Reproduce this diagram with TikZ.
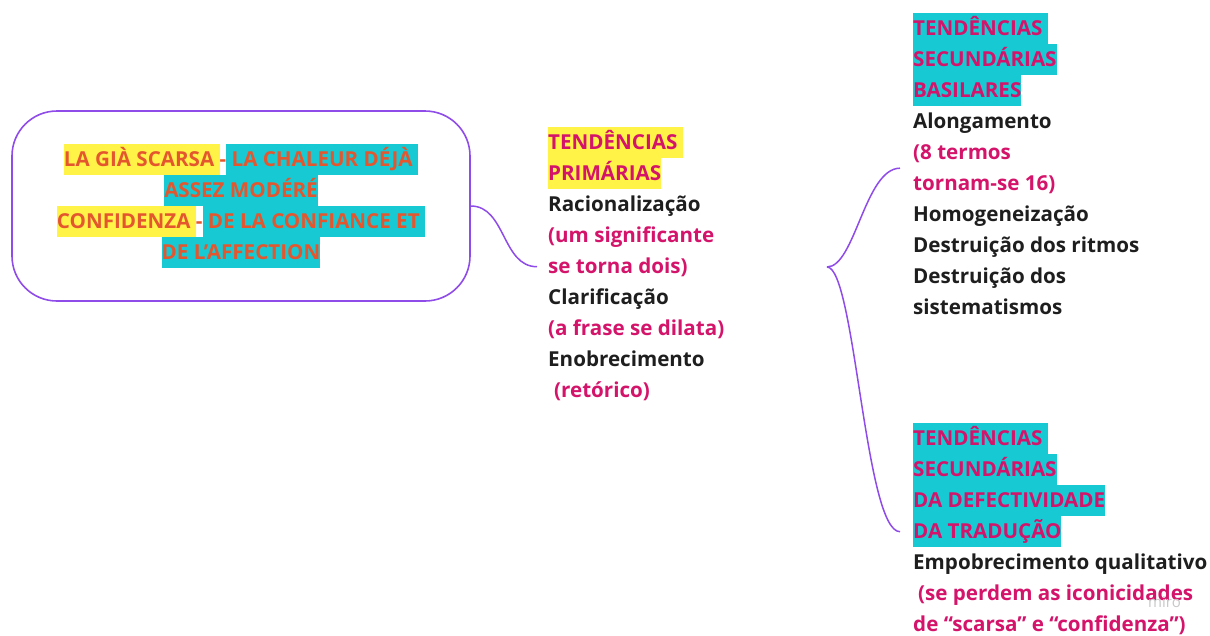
\documentclass[tikz,border=0pt]{standalone}
\usepackage{fontspec}
\setmainfont{Open Sans}
\definecolor{linkpurple}{RGB}{143,76,232}
\definecolor{inkorange}{RGB}{228,87,46}
\definecolor{hlyellow}{RGB}{255,243,71}
\definecolor{hlteal}{RGB}{23,201,211}
\definecolor{accentpink}{RGB}{212,20,106}
\definecolor{inkdark}{RGB}{30,30,30}
% line strut: every text line is 31pt tall, so highlights tile
\newcommand\ls{\rule[-9pt]{0pt}{31pt}}
\newcommand\hly[1]{{\setlength{\fboxsep}{0pt}\colorbox{hlyellow}{\ls#1}}}
\newcommand\hlt[1]{{\setlength{\fboxsep}{0pt}\colorbox{hlteal}{\ls#1}}}
\newcommand\pk[1]{\textcolor{accentpink}{#1}}
\begin{document}
\begin{tikzpicture}[x=1pt,y=-1pt,
  conn/.style={draw=linkpurple, line width=1.5pt},
  txt/.style={anchor=north west, inner sep=0pt, align=left,
    font=\bfseries\fontsize{20.6}{31}\selectfont, text=inkdark},
  srcbox/.style={draw=linkpurple, line width=1.6pt, rounded corners=45pt,
    minimum width=458pt, minimum height=190pt, inner sep=0pt, align=center,
    font=\bfseries\fontsize{20.6}{31}\selectfont, text=inkorange},
]
\useasboundingbox (0,0) rectangle (1210,635);

% source box
\node[srcbox] (src) at (241,206) {%
  \hly{LA GIÀ SCARSA }-\hlt{ LA CHALEUR DÉJÀ }\\
  \hlt{ASSEZ MODÉRÉ}\\
  \hly{CONFIDENZA }-\hlt{ DE LA CONFIANCE ET }\\
  \hlt{DE L’AFFECTION}};

% primary tendencies
\node[txt] (prim) at (548,127) {%
  \pk{\hly{TENDÊNCIAS }}\\
  \pk{\hly{PRIMÁRIAS}}\\
  \ls Racionalização\\
  \ls\pk{(um significante}\\
  \ls\pk{se torna dois)}\\
  \ls Clarificação\\
  \ls\pk{(a frase se dilata)}\\
  \ls Enobrecimento\\
  \ls\hspace*{6pt}\pk{(retórico)}};

% basic secondary tendencies
\node[txt] (basil) at (913,13) {%
  \pk{\hlt{TENDÊNCIAS }}\\
  \pk{\hlt{SECUNDÁRIAS}}\\
  \pk{\hlt{BASILARES}}\\
  \ls Alongamento\\
  \ls\pk{(8 termos}\\
  \ls\pk{tornam-se 16)}\\
  \ls Homogeneização\\
  \ls Destruição dos ritmos\\
  \ls Destruição dos\\
  \ls sistematismos};

% secondary tendencies of defectivity
\node[txt] (defect) at (913,423) {%
  \pk{\hlt{TENDÊNCIAS }}\\
  \pk{\hlt{SECUNDÁRIAS}}\\
  \pk{\hlt{DA DEFECTIVIDADE}}\\
  \pk{\hlt{DA TRADUÇÃO}}\\
  \ls Empobrecimento qualitativo\\
  \ls\hspace*{5pt}\pk{(se perdem as iconicidades}\\
  \ls\pk{de “scarsa” e “confidenza”)}};

\node[anchor=west, inner sep=0pt, text=black!22, font=\fontsize{15}{15}\selectfont] (mark) at (1148,602) {miro};

% connectors
\coordinate (fork) at (827,267);
\draw[conn] (src.east) .. controls +(35,0) and +(-35,0) .. ([xshift=-11pt]prim.west);
\draw[conn] (fork) .. controls +(28,0) and +(-35,0) .. ([xshift=-13pt]basil.west);
\draw[conn] (fork) .. controls +(28,0) and +(-35,0) .. ([xshift=-13pt]defect.west);
\end{tikzpicture}
\end{document}
